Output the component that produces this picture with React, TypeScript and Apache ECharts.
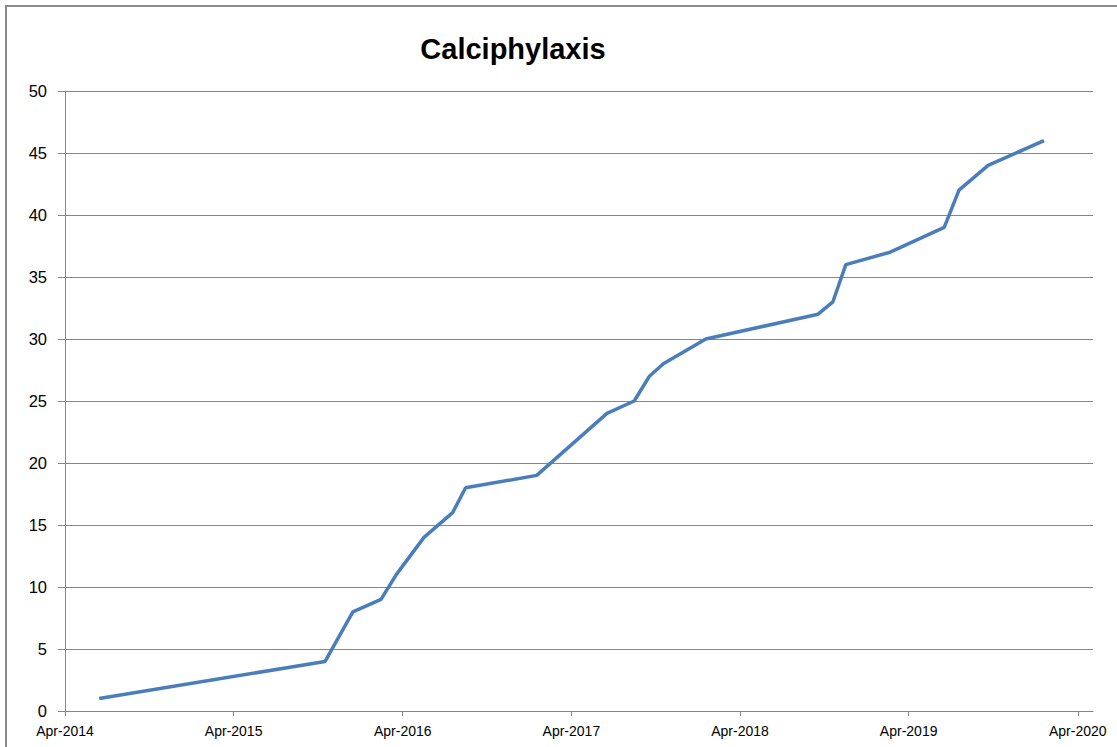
import React, { useEffect, useRef } from "react";
import * as echarts from "echarts";

const titleText = "Calciphylaxis";
const dates = [
  "2014-06-14", "2015-10-16", "2015-12-15", "2016-02-14", "2016-03-18",
  "2016-05-17", "2016-07-18", "2016-08-15", "2017-01-16", "2017-06-17",
  "2017-08-15", "2017-09-17", "2017-10-17", "2018-01-17", "2018-09-17",
  "2018-10-19", "2018-11-16", "2019-02-20", "2019-06-17", "2019-07-19",
  "2019-09-20", "2020-01-19",
];
const counts = [1, 4, 8, 9, 11, 14, 16, 18, 19, 24, 25, 27, 28, 30, 32, 33, 36, 37, 39, 42, 44, 46];
const tickYears = [2014, 2015, 2016, 2017, 2018, 2019, 2020];
const axisStart = "2014-04-01";
const axisEnd = "2020-05-04";

const MONTHS = ["Jan", "Feb", "Mar", "Apr", "May", "Jun", "Jul", "Aug", "Sep", "Oct", "Nov", "Dec"];

export default function App() {
  const ref = useRef<HTMLDivElement>(null);
  useEffect(() => {
    document.body.style.margin = "0";
    const chart = echarts.init(ref.current!, null, { renderer: "svg" });
    const tickValues = tickYears.map((y) => Date.UTC(y, 3, 1));
    const gray = "#868686";
    const font = "'Liberation Sans', Arial, sans-serif";
    chart.setOption({
      animation: false,
      backgroundColor: "#ffffff",
      grid: { left: 65, right: 24, top: 91, bottom: 36 },
      xAxis: {
        type: "value",
        min: Date.parse(axisStart),
        max: Date.parse(axisEnd),
        splitLine: { show: false },
        axisLine: { show: true, lineStyle: { color: gray, width: 1 } },
        axisTick: { show: true, length: 5, lineStyle: { color: gray }, customValues: tickValues },
        axisLabel: {
          customValues: tickValues,
          margin: 13,
          color: "#000000",
          fontSize: 14,
          fontFamily: font,
          formatter: (v: number) => {
            const d = new Date(v);
            return MONTHS[d.getUTCMonth()] + "-" + d.getUTCFullYear();
          },
        },
      },
      yAxis: {
        type: "value",
        min: 0,
        max: 50,
        interval: 5,
        axisLine: { show: true, lineStyle: { color: gray, width: 1 } },
        axisTick: { show: true, length: 7, lineStyle: { color: gray } },
        splitLine: { show: true, lineStyle: { color: gray, width: 1 } },
        axisLabel: { margin: 18, color: "#000000", fontSize: 16.5, fontFamily: font },
      },
      graphic: [
        {
          type: "rect",
          shape: { x: 6, y: 6, width: 1400, height: 1000 },
          style: { fill: "none", stroke: "#8a8a8a", lineWidth: 2 },
          silent: true,
        },
        {
          type: "text",
          x: 513,
          y: 49,
          style: {
            text: titleText,
            textAlign: "center",
            textVerticalAlign: "middle",
            fontSize: 29,
            fontWeight: "bold",
            fontFamily: font,
            fill: "#000000",
          },
        },
      ],
      series: [
        {
          type: "line",
          showSymbol: false,
          data: dates.map((d, i) => [Date.parse(d), counts[i]]),
          lineStyle: { color: "#4a7ebb", width: 3.5 },
          itemStyle: { color: "#4a7ebb" },
        },
      ],
    });
    return () => chart.dispose();
  }, []);
  return <div ref={ref} style={{ position: "fixed", left: 0, top: 0, width: 1117, height: 747 }} />;
}
